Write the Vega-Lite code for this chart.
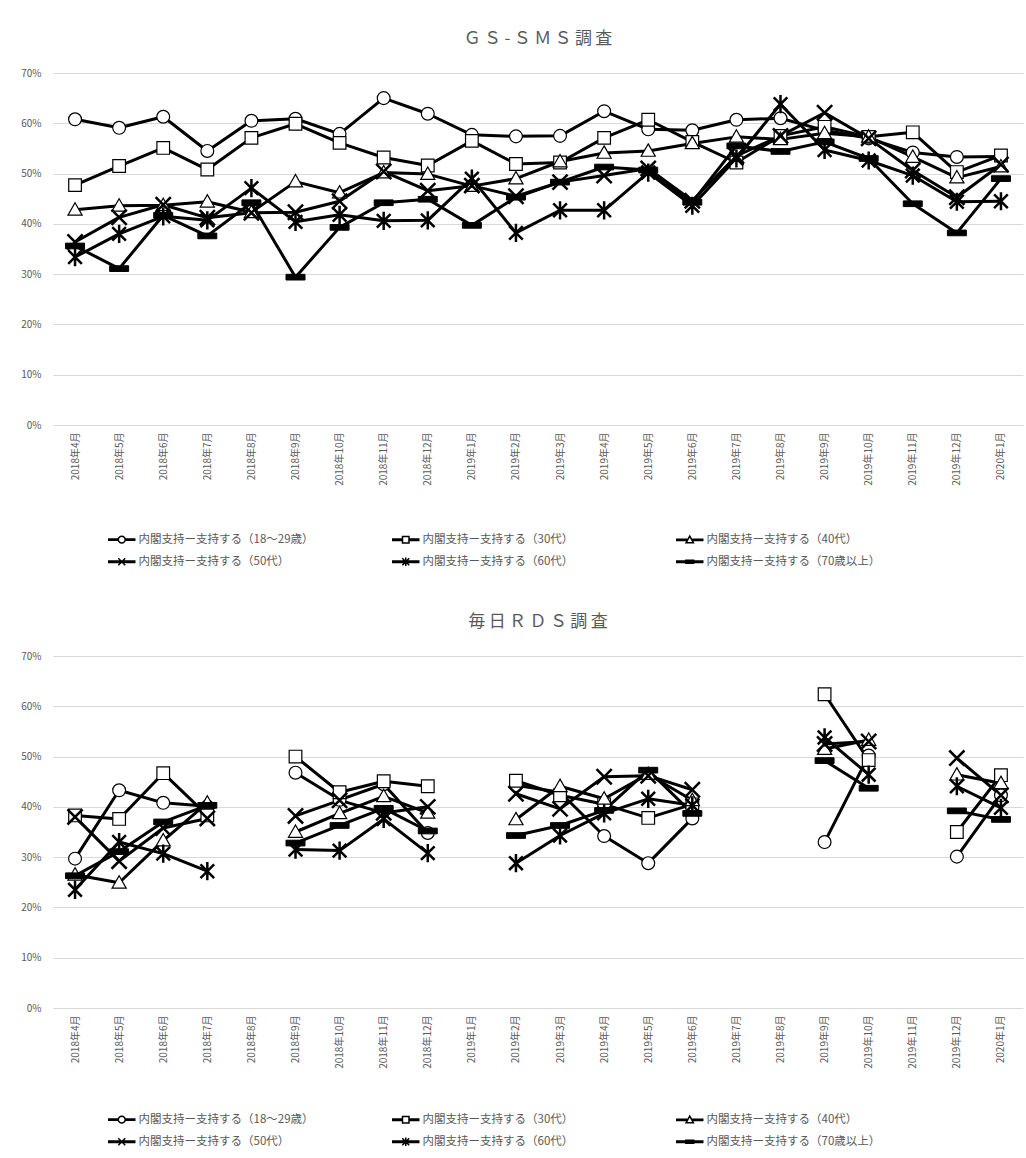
{
  "$schema": "https://vega.github.io/schema/vega-lite/v6.json",
  "padding": {"left": 20, "top": 30, "right": 2, "bottom": 5},
  "background": "white",
  "config": {
    "font": "Noto Sans CJK JP",
    "view": {"stroke": null},
    "axis": {"labelFont": "Noto Sans CJK JP", "labelColor": "#595959", "labelFontSize": 10, "title": null, "ticks": false, "domain": false},
    "legend": {"labelFont": "Noto Sans CJK JP", "labelColor": "#595959", "labelFontSize": 11.5, "labelLimit": 0}
  },
  "datasets": {
    "gs": [
      {"month": "2018年4月", "内閣支持ー支持する（18〜29歳）": 0.608, "内閣支持ー支持する（30代）": 0.477, "内閣支持ー支持する（40代）": 0.428, "内閣支持ー支持する（50代）": 0.364, "内閣支持ー支持する（60代）": 0.334, "内閣支持ー支持する（70歳以上）": 0.356},
      {"month": "2018年5月", "内閣支持ー支持する（18〜29歳）": 0.591, "内閣支持ー支持する（30代）": 0.515, "内閣支持ー支持する（40代）": 0.436, "内閣支持ー支持する（50代）": 0.413, "内閣支持ー支持する（60代）": 0.380, "内閣支持ー支持する（70歳以上）": 0.311},
      {"month": "2018年6月", "内閣支持ー支持する（18〜29歳）": 0.613, "内閣支持ー支持する（30代）": 0.551, "内閣支持ー支持する（40代）": 0.437, "内閣支持ー支持する（50代）": 0.438, "内閣支持ー支持する（60代）": 0.415, "内閣支持ー支持する（70歳以上）": 0.417},
      {"month": "2018年7月", "内閣支持ー支持する（18〜29歳）": 0.545, "内閣支持ー支持する（30代）": 0.508, "内閣支持ー支持する（40代）": 0.444, "内閣支持ー支持する（50代）": 0.412, "内閣支持ー支持する（60代）": 0.407, "内閣支持ー支持する（70歳以上）": 0.376},
      {"month": "2018年8月", "内閣支持ー支持する（18〜29歳）": 0.605, "内閣支持ー支持する（30代）": 0.571, "内閣支持ー支持する（40代）": 0.423, "内閣支持ー支持する（50代）": 0.422, "内閣支持ー支持する（60代）": 0.471, "内閣支持ー支持する（70歳以上）": 0.442},
      {"month": "2018年9月", "内閣支持ー支持する（18〜29歳）": 0.609, "内閣支持ー支持する（30代）": 0.599, "内閣支持ー支持する（40代）": 0.484, "内閣支持ー支持する（50代）": 0.423, "内閣支持ー支持する（60代）": 0.404, "内閣支持ー支持する（70歳以上）": 0.294},
      {"month": "2018年10月", "内閣支持ー支持する（18〜29歳）": 0.579, "内閣支持ー支持する（30代）": 0.561, "内閣支持ー支持する（40代）": 0.462, "内閣支持ー支持する（50代）": 0.445, "内閣支持ー支持する（60代）": 0.418, "内閣支持ー支持する（70歳以上）": 0.393},
      {"month": "2018年11月", "内閣支持ー支持する（18〜29歳）": 0.650, "内閣支持ー支持する（30代）": 0.532, "内閣支持ー支持する（40代）": 0.502, "内閣支持ー支持する（50代）": 0.504, "内閣支持ー支持する（60代）": 0.406, "内閣支持ー支持する（70歳以上）": 0.442},
      {"month": "2018年12月", "内閣支持ー支持する（18〜29歳）": 0.619, "内閣支持ー支持する（30代）": 0.516, "内閣支持ー支持する（40代）": 0.499, "内閣支持ー支持する（50代）": 0.466, "内閣支持ー支持する（60代）": 0.407, "内閣支持ー支持する（70歳以上）": 0.449},
      {"month": "2019年1月", "内閣支持ー支持する（18〜29歳）": 0.577, "内閣支持ー支持する（30代）": 0.565, "内閣支持ー支持する（40代）": 0.475, "内閣支持ー支持する（50代）": 0.476, "内閣支持ー支持する（60代）": 0.490, "内閣支持ー支持する（70歳以上）": 0.397},
      {"month": "2019年2月", "内閣支持ー支持する（18〜29歳）": 0.574, "内閣支持ー支持する（30代）": 0.519, "内閣支持ー支持する（40代）": 0.490, "内閣支持ー支持する（50代）": 0.455, "内閣支持ー支持する（60代）": 0.382, "内閣支持ー支持する（70歳以上）": 0.453},
      {"month": "2019年3月", "内閣支持ー支持する（18〜29歳）": 0.575, "内閣支持ー支持する（30代）": 0.522, "内閣支持ー支持する（40代）": 0.524, "内閣支持ー支持する（50代）": 0.483, "内閣支持ー支持する（60代）": 0.427, "内閣支持ー支持する（70歳以上）": 0.483},
      {"month": "2019年4月", "内閣支持ー支持する（18〜29歳）": 0.624, "内閣支持ー支持する（30代）": 0.571, "内閣支持ー支持する（40代）": 0.541, "内閣支持ー支持する（50代）": 0.496, "内閣支持ー支持する（60代）": 0.427, "内閣支持ー支持する（70歳以上）": 0.513},
      {"month": "2019年5月", "内閣支持ー支持する（18〜29歳）": 0.588, "内閣支持ー支持する（30代）": 0.607, "内閣支持ー支持する（40代）": 0.545, "内閣支持ー支持する（50代）": 0.510, "内閣支持ー支持する（60代）": 0.502, "内閣支持ー支持する（70歳以上）": 0.507},
      {"month": "2019年6月", "内閣支持ー支持する（18〜29歳）": 0.586, "内閣支持ー支持する（30代）": 0.563, "内閣支持ー支持する（40代）": 0.560, "内閣支持ー支持する（50代）": 0.446, "内閣支持ー支持する（60代）": 0.436, "内閣支持ー支持する（70歳以上）": 0.443},
      {"month": "2019年7月", "内閣支持ー支持する（18〜29歳）": 0.607, "内閣支持ー支持する（30代）": 0.522, "内閣支持ー支持する（40代）": 0.573, "内閣支持ー支持する（50代）": 0.535, "内閣支持ー支持する（60代）": 0.530, "内閣支持ー支持する（70歳以上）": 0.555},
      {"month": "2019年8月", "内閣支持ー支持する（18〜29歳）": 0.610, "内閣支持ー支持する（30代）": 0.575, "内閣支持ー支持する（40代）": 0.568, "内閣支持ー支持する（50代）": 0.575, "内閣支持ー支持する（60代）": 0.638, "内閣支持ー支持する（70歳以上）": 0.544},
      {"month": "2019年9月", "内閣支持ー支持する（18〜29歳）": 0.586, "内閣支持ー支持する（30代）": 0.593, "内閣支持ー支持する（40代）": 0.580, "内閣支持ー支持する（50代）": 0.621, "内閣支持ー支持する（60代）": 0.547, "内閣支持ー支持する（70歳以上）": 0.563},
      {"month": "2019年10月", "内閣支持ー支持する（18〜29歳）": 0.570, "内閣支持ー支持する（30代）": 0.573, "内閣支持ー支持する（40代）": 0.573, "内閣支持ー支持する（50代）": 0.570, "内閣支持ー支持する（60代）": 0.526, "内閣支持ー支持する（70歳以上）": 0.530},
      {"month": "2019年11月", "内閣支持ー支持する（18〜29歳）": 0.542, "内閣支持ー支持する（30代）": 0.582, "内閣支持ー支持する（40代）": 0.533, "内閣支持ー支持する（50代）": 0.506, "内閣支持ー支持する（60代）": 0.496, "内閣支持ー支持する（70歳以上）": 0.440},
      {"month": "2019年12月", "内閣支持ー支持する（18〜29歳）": 0.533, "内閣支持ー支持する（30代）": 0.503, "内閣支持ー支持する（40代）": 0.492, "内閣支持ー支持する（50代）": 0.453, "内閣支持ー支持する（60代）": 0.444, "内閣支持ー支持する（70歳以上）": 0.382},
      {"month": "2020年1月", "内閣支持ー支持する（18〜29歳）": 0.534, "内閣支持ー支持する（30代）": 0.536, "内閣支持ー支持する（40代）": 0.514, "内閣支持ー支持する（50代）": 0.518, "内閣支持ー支持する（60代）": 0.445, "内閣支持ー支持する（70歳以上）": 0.490}
    ],
    "rds": [
      {"month": "2018年4月", "内閣支持ー支持する（18〜29歳）": 0.297, "内閣支持ー支持する（30代）": 0.383, "内閣支持ー支持する（40代）": 0.265, "内閣支持ー支持する（50代）": 0.380, "内閣支持ー支持する（60代）": 0.235, "内閣支持ー支持する（70歳以上）": 0.263},
      {"month": "2018年5月", "内閣支持ー支持する（18〜29歳）": 0.433, "内閣支持ー支持する（30代）": 0.376, "内閣支持ー支持する（40代）": 0.249, "内閣支持ー支持する（50代）": 0.292, "内閣支持ー支持する（60代）": 0.330, "内閣支持ー支持する（70歳以上）": 0.311},
      {"month": "2018年6月", "内閣支持ー支持する（18〜29歳）": 0.408, "内閣支持ー支持する（30代）": 0.467, "内閣支持ー支持する（40代）": 0.333, "内閣支持ー支持する（50代）": 0.358, "内閣支持ー支持する（60代）": 0.307, "内閣支持ー支持する（70歳以上）": 0.370},
      {"month": "2018年7月", "内閣支持ー支持する（18〜29歳）": 0.401, "内閣支持ー支持する（30代）": 0.383, "内閣支持ー支持する（40代）": 0.408, "内閣支持ー支持する（50代）": 0.377, "内閣支持ー支持する（60代）": 0.272, "内閣支持ー支持する（70歳以上）": 0.403},
      {"month": "2018年8月", "内閣支持ー支持する（18〜29歳）": null, "内閣支持ー支持する（30代）": null, "内閣支持ー支持する（40代）": null, "内閣支持ー支持する（50代）": null, "内閣支持ー支持する（60代）": null, "内閣支持ー支持する（70歳以上）": null},
      {"month": "2018年9月", "内閣支持ー支持する（18〜29歳）": 0.468, "内閣支持ー支持する（30代）": 0.500, "内閣支持ー支持する（40代）": 0.350, "内閣支持ー支持する（50代）": 0.382, "内閣支持ー支持する（60代）": 0.315, "内閣支持ー支持する（70歳以上）": 0.328},
      {"month": "2018年10月", "内閣支持ー支持する（18〜29歳）": 0.414, "内閣支持ー支持する（30代）": 0.429, "内閣支持ー支持する（40代）": 0.387, "内閣支持ー支持する（50代）": 0.413, "内閣支持ー支持する（60代）": 0.313, "内閣支持ー支持する（70歳以上）": 0.363},
      {"month": "2018年11月", "内閣支持ー支持する（18〜29歳）": 0.445, "内閣支持ー支持する（30代）": 0.451, "内閣支持ー支持する（40代）": 0.421, "内閣支持ー支持する（50代）": 0.388, "内閣支持ー支持する（60代）": 0.376, "内閣支持ー支持する（70歳以上）": 0.397},
      {"month": "2018年12月", "内閣支持ー支持する（18〜29歳）": 0.348, "内閣支持ー支持する（30代）": 0.441, "内閣支持ー支持する（40代）": 0.388, "内閣支持ー支持する（50代）": 0.400, "内閣支持ー支持する（60代）": 0.308, "内閣支持ー支持する（70歳以上）": 0.352},
      {"month": "2019年1月", "内閣支持ー支持する（18〜29歳）": null, "内閣支持ー支持する（30代）": null, "内閣支持ー支持する（40代）": null, "内閣支持ー支持する（50代）": null, "内閣支持ー支持する（60代）": null, "内閣支持ー支持する（70歳以上）": null},
      {"month": "2019年2月", "内閣支持ー支持する（18〜29歳）": 0.443, "内閣支持ー支持する（30代）": 0.452, "内閣支持ー支持する（40代）": 0.375, "内閣支持ー支持する（50代）": 0.426, "内閣支持ー支持する（60代）": 0.288, "内閣支持ー支持する（70歳以上）": 0.343},
      {"month": "2019年3月", "内閣支持ー支持する（18〜29歳）": 0.429, "内閣支持ー支持する（30代）": 0.423, "内閣支持ー支持する（40代）": 0.441, "内閣支持ー支持する（50代）": 0.396, "内閣支持ー支持する（60代）": 0.343, "内閣支持ー支持する（70歳以上）": 0.363},
      {"month": "2019年4月", "内閣支持ー支持する（18〜29歳）": 0.342, "内閣支持ー支持する（30代）": 0.405, "内閣支持ー支持する（40代）": 0.416, "内閣支持ー支持する（50代）": 0.460, "内閣支持ー支持する（60代）": 0.387, "内閣支持ー支持する（70歳以上）": 0.393},
      {"month": "2019年5月", "内閣支持ー支持する（18〜29歳）": 0.288, "内閣支持ー支持する（30代）": 0.378, "内閣支持ー支持する（40代）": 0.465, "内閣支持ー支持する（50代）": 0.462, "内閣支持ー支持する（60代）": 0.416, "内閣支持ー支持する（70歳以上）": 0.473},
      {"month": "2019年6月", "内閣支持ー支持する（18〜29歳）": 0.377, "内閣支持ー支持する（30代）": 0.405, "内閣支持ー支持する（40代）": 0.413, "内閣支持ー支持する（50代）": 0.434, "内閣支持ー支持する（60代）": 0.403, "内閣支持ー支持する（70歳以上）": 0.387},
      {"month": "2019年7月", "内閣支持ー支持する（18〜29歳）": null, "内閣支持ー支持する（30代）": null, "内閣支持ー支持する（40代）": null, "内閣支持ー支持する（50代）": null, "内閣支持ー支持する（60代）": null, "内閣支持ー支持する（70歳以上）": null},
      {"month": "2019年8月", "内閣支持ー支持する（18〜29歳）": null, "内閣支持ー支持する（30代）": null, "内閣支持ー支持する（40代）": null, "内閣支持ー支持する（50代）": null, "内閣支持ー支持する（60代）": null, "内閣支持ー支持する（70歳以上）": null},
      {"month": "2019年9月", "内閣支持ー支持する（18〜29歳）": 0.330, "内閣支持ー支持する（30代）": 0.624, "内閣支持ー支持する（40代）": 0.515, "内閣支持ー支持する（50代）": 0.525, "内閣支持ー支持する（60代）": 0.538, "内閣支持ー支持する（70歳以上）": 0.492},
      {"month": "2019年10月", "内閣支持ー支持する（18〜29歳）": 0.502, "内閣支持ー支持する（30代）": 0.493, "内閣支持ー支持する（40代）": 0.533, "内閣支持ー支持する（50代）": 0.530, "内閣支持ー支持する（60代）": 0.464, "内閣支持ー支持する（70歳以上）": 0.437},
      {"month": "2019年11月", "内閣支持ー支持する（18〜29歳）": null, "内閣支持ー支持する（30代）": null, "内閣支持ー支持する（40代）": null, "内閣支持ー支持する（50代）": null, "内閣支持ー支持する（60代）": null, "内閣支持ー支持する（70歳以上）": null},
      {"month": "2019年12月", "内閣支持ー支持する（18〜29歳）": 0.301, "内閣支持ー支持する（30代）": 0.350, "内閣支持ー支持する（40代）": 0.464, "内閣支持ー支持する（50代）": 0.497, "内閣支持ー支持する（60代）": 0.441, "内閣支持ー支持する（70歳以上）": 0.392},
      {"month": "2020年1月", "内閣支持ー支持する（18〜29歳）": 0.423, "内閣支持ー支持する（30代）": 0.463, "内閣支持ー支持する（40代）": 0.447, "内閣支持ー支持する（50代）": 0.423, "内閣支持ー支持する（60代）": 0.398, "内閣支持ー支持する（70歳以上）": 0.375}
    ]
  },
  "spacing": 43,
  "resolve": {"legend": {"shape": "independent", "fill": "independent"}},
  "vconcat": [
    {
      "title": {"text": "Ｇ\u2009Ｓ\u2009-\u2009Ｓ\u2009Ｍ\u2009Ｓ\u2009調\u2009査", "fontSize": 17, "fontWeight": "normal", "color": "#595959", "font": "Noto Sans CJK JP", "offset": 20, "anchor": "middle"},
      "width": 970,
      "height": 352,
      "data": {"name": "gs"},
      "transform": [{"fold": ["内閣支持ー支持する（18〜29歳）", "内閣支持ー支持する（30代）", "内閣支持ー支持する（40代）", "内閣支持ー支持する（50代）", "内閣支持ー支持する（60代）", "内閣支持ー支持する（70歳以上）"], "as": ["series", "value"]}],
      "encoding": {
        "x": {"field": "month", "type": "ordinal", "sort": null,
              "scale": {"domain": ["2018年4月", "2018年5月", "2018年6月", "2018年7月", "2018年8月", "2018年9月", "2018年10月", "2018年11月", "2018年12月", "2019年1月", "2019年2月", "2019年3月", "2019年4月", "2019年5月", "2019年6月", "2019年7月", "2019年8月", "2019年9月", "2019年10月", "2019年11月", "2019年12月", "2020年1月"]},
              "axis": {"labelAngle": -90, "labelPadding": 7, "grid": false}},
        "y": {"field": "value", "type": "quantitative", "scale": {"domain": [0, 0.7]},
              "axis": {"values": [0, 0.1, 0.2, 0.3, 0.4, 0.5, 0.6, 0.7], "format": ".0%", "labelPadding": 12, "gridColor": "#d9d9d9", "gridWidth": 1}}
      },
      "layer": [
        {"mark": {"type": "line", "color": "black", "strokeWidth": 3, "strokeJoin": "round", "invalid": "break-paths-show-domains"},
         "encoding": {"detail": {"field": "series"}}},
        {"transform": [{"filter": {"field": "series", "equal": "内閣支持ー支持する（18〜29歳）"}}],
         "mark": {"type": "point", "shape": "circle", "size": 165, "filled": true, "fill": "white", "stroke": "black", "strokeWidth": 1.2, "opacity": 1}},
        {"transform": [{"filter": {"field": "series", "equal": "内閣支持ー支持する（30代）"}}],
         "mark": {"type": "point", "shape": "square", "size": 160, "filled": true, "fill": "white", "stroke": "black", "strokeWidth": 1.2, "opacity": 1}},
        {"transform": [{"filter": {"field": "series", "equal": "内閣支持ー支持する（40代）"}}],
         "mark": {"type": "point", "shape": "M0,-1L1,0.75H-1Z", "size": 200, "filled": true, "fill": "white", "stroke": "black", "strokeWidth": 1.2, "opacity": 1}},
        {"transform": [{"filter": {"field": "series", "equal": "内閣支持ー支持する（50代）"}}],
         "mark": {"type": "point", "shape": "M-1,-1L1,1M-1,1L1,-1", "size": 230, "filled": false, "stroke": "black", "strokeWidth": 2.5, "opacity": 1}},
        {"transform": [{"filter": {"field": "series", "equal": "内閣支持ー支持する（60代）"}}],
         "mark": {"type": "point", "shape": "M-0.9,-0.9L0.9,0.9M-0.9,0.9L0.9,-0.9M0,-1.2L0,1.2", "size": 230, "filled": false, "stroke": "black", "strokeWidth": 2.5, "opacity": 1}},
        {"transform": [{"filter": {"field": "series", "equal": "内閣支持ー支持する（70歳以上）"}}],
         "mark": {"type": "point", "shape": "M-1,-0.3H1V0.3H-1Z", "size": 360, "filled": true, "fill": "black", "stroke": "black", "strokeWidth": 1, "strokeJoin": "round", "opacity": 1}},
        {"transform": [{"filter": "false"}],
         "mark": {"type": "point", "stroke": "black", "strokeWidth": 1.4, "opacity": 1},
         "encoding": {
           "shape": {"field": "series", "type": "nominal",
             "scale": {"domain": ["内閣支持ー支持する（18〜29歳）", "内閣支持ー支持する（30代）", "内閣支持ー支持する（40代）", "内閣支持ー支持する（50代）", "内閣支持ー支持する（60代）", "内閣支持ー支持する（70歳以上）"],
                       "range": [
                         "M-3,-0.15H-0.8V0.15H-3ZM0.8,-0.15H3V0.15H0.8ZM-0.8,0A0.8,0.8 0 1,1 0.8,0A0.8,0.8 0 1,1 -0.8,0Z",
                         "M-3,-0.15H-0.75V0.15H-3ZM0.75,-0.15H3V0.15H0.75ZM-0.75,-0.75H0.75V0.75H-0.75Z",
                         "M-3,-0.15H-0.6V0.15H-3ZM0.6,-0.15H3V0.15H0.6ZM0,-0.9L0.85,0.65H-0.85Z",
                         "M-3,-0.15H3V0.15H-3ZM-0.8,-0.8L0.8,0.8M-0.8,0.8L0.8,-0.8",
                         "M-3,-0.15H3V0.15H-3ZM-0.8,-0.8L0.8,0.8M-0.8,0.8L0.8,-0.8M0,-1L0,1",
                         "M-3,-0.15H3V0.15H-3ZM-0.9,-0.35H0.9V0.35H-0.9Z"]},
             "legend": {"title": null, "orient": "none", "legendX": 63, "legendY": 460, "columns": 3, "direction": "horizontal", "symbolSize": 75, "labelOffset": 11, "rowPadding": 7, "columnPadding": 75, "gridAlign": "all",
                        "encode": {"symbols": {"update": {"stroke": {"value": "black"}, "strokeWidth": {"value": 1.3}, "opacity": {"value": 1}}}}}},
           "fill": {"field": "series", "type": "nominal",
             "scale": {"domain": ["内閣支持ー支持する（18〜29歳）", "内閣支持ー支持する（30代）", "内閣支持ー支持する（40代）", "内閣支持ー支持する（50代）", "内閣支持ー支持する（60代）", "内閣支持ー支持する（70歳以上）"],
                       "range": ["white", "white", "white", "black", "black", "black"]},
             "legend": {"title": null, "orient": "none", "legendX": 63, "legendY": 460, "columns": 3, "direction": "horizontal", "symbolSize": 75, "labelOffset": 11, "rowPadding": 7, "columnPadding": 75, "gridAlign": "all",
                        "encode": {"symbols": {"update": {"stroke": {"value": "black"}, "strokeWidth": {"value": 1.3}, "opacity": {"value": 1}}}}}}
         }}
      ]
    },
    {
      "title": {"text": "毎\u2009日\u2009Ｒ\u2009Ｄ\u2009Ｓ\u2009調\u2009査", "fontSize": 17, "fontWeight": "normal", "color": "#595959", "font": "Noto Sans CJK JP", "offset": 20, "anchor": "middle"},
      "width": 970,
      "height": 352,
      "data": {"name": "rds"},
      "transform": [{"fold": ["内閣支持ー支持する（18〜29歳）", "内閣支持ー支持する（30代）", "内閣支持ー支持する（40代）", "内閣支持ー支持する（50代）", "内閣支持ー支持する（60代）", "内閣支持ー支持する（70歳以上）"], "as": ["series", "value"]}],
      "encoding": {
        "x": {"field": "month", "type": "ordinal", "sort": null,
              "scale": {"domain": ["2018年4月", "2018年5月", "2018年6月", "2018年7月", "2018年8月", "2018年9月", "2018年10月", "2018年11月", "2018年12月", "2019年1月", "2019年2月", "2019年3月", "2019年4月", "2019年5月", "2019年6月", "2019年7月", "2019年8月", "2019年9月", "2019年10月", "2019年11月", "2019年12月", "2020年1月"]},
              "axis": {"labelAngle": -90, "labelPadding": 7, "grid": false}},
        "y": {"field": "value", "type": "quantitative", "scale": {"domain": [0, 0.7]},
              "axis": {"values": [0, 0.1, 0.2, 0.3, 0.4, 0.5, 0.6, 0.7], "format": ".0%", "labelPadding": 12, "gridColor": "#d9d9d9", "gridWidth": 1}}
      },
      "layer": [
        {"mark": {"type": "line", "color": "black", "strokeWidth": 3, "strokeJoin": "round", "invalid": "break-paths-show-domains"},
         "encoding": {"detail": {"field": "series"}}},
        {"transform": [{"filter": {"field": "series", "equal": "内閣支持ー支持する（18〜29歳）"}}],
         "mark": {"type": "point", "shape": "circle", "size": 165, "filled": true, "fill": "white", "stroke": "black", "strokeWidth": 1.2, "opacity": 1}},
        {"transform": [{"filter": {"field": "series", "equal": "内閣支持ー支持する（30代）"}}],
         "mark": {"type": "point", "shape": "square", "size": 160, "filled": true, "fill": "white", "stroke": "black", "strokeWidth": 1.2, "opacity": 1}},
        {"transform": [{"filter": {"field": "series", "equal": "内閣支持ー支持する（40代）"}}],
         "mark": {"type": "point", "shape": "M0,-1L1,0.75H-1Z", "size": 200, "filled": true, "fill": "white", "stroke": "black", "strokeWidth": 1.2, "opacity": 1}},
        {"transform": [{"filter": {"field": "series", "equal": "内閣支持ー支持する（50代）"}}],
         "mark": {"type": "point", "shape": "M-1,-1L1,1M-1,1L1,-1", "size": 230, "filled": false, "stroke": "black", "strokeWidth": 2.5, "opacity": 1}},
        {"transform": [{"filter": {"field": "series", "equal": "内閣支持ー支持する（60代）"}}],
         "mark": {"type": "point", "shape": "M-0.9,-0.9L0.9,0.9M-0.9,0.9L0.9,-0.9M0,-1.2L0,1.2", "size": 230, "filled": false, "stroke": "black", "strokeWidth": 2.5, "opacity": 1}},
        {"transform": [{"filter": {"field": "series", "equal": "内閣支持ー支持する（70歳以上）"}}],
         "mark": {"type": "point", "shape": "M-1,-0.3H1V0.3H-1Z", "size": 360, "filled": true, "fill": "black", "stroke": "black", "strokeWidth": 1, "strokeJoin": "round", "opacity": 1}},
        {"transform": [{"filter": "false"}],
         "mark": {"type": "point", "stroke": "black", "strokeWidth": 1.4, "opacity": 1},
         "encoding": {
           "shape": {"field": "series", "type": "nominal",
             "scale": {"domain": ["内閣支持ー支持する（18〜29歳）", "内閣支持ー支持する（30代）", "内閣支持ー支持する（40代）", "内閣支持ー支持する（50代）", "内閣支持ー支持する（60代）", "内閣支持ー支持する（70歳以上）"],
                       "range": [
                         "M-3,-0.15H-0.8V0.15H-3ZM0.8,-0.15H3V0.15H0.8ZM-0.8,0A0.8,0.8 0 1,1 0.8,0A0.8,0.8 0 1,1 -0.8,0Z",
                         "M-3,-0.15H-0.75V0.15H-3ZM0.75,-0.15H3V0.15H0.75ZM-0.75,-0.75H0.75V0.75H-0.75Z",
                         "M-3,-0.15H-0.6V0.15H-3ZM0.6,-0.15H3V0.15H0.6ZM0,-0.9L0.85,0.65H-0.85Z",
                         "M-3,-0.15H3V0.15H-3ZM-0.8,-0.8L0.8,0.8M-0.8,0.8L0.8,-0.8",
                         "M-3,-0.15H3V0.15H-3ZM-0.8,-0.8L0.8,0.8M-0.8,0.8L0.8,-0.8M0,-1L0,1",
                         "M-3,-0.15H3V0.15H-3ZM-0.9,-0.35H0.9V0.35H-0.9Z"]},
             "legend": {"title": null, "orient": "none", "legendX": 63, "legendY": 457, "columns": 3, "direction": "horizontal", "symbolSize": 75, "labelOffset": 11, "rowPadding": 7, "columnPadding": 75, "gridAlign": "all",
                        "encode": {"symbols": {"update": {"stroke": {"value": "black"}, "strokeWidth": {"value": 1.3}, "opacity": {"value": 1}}}}}},
           "fill": {"field": "series", "type": "nominal",
             "scale": {"domain": ["内閣支持ー支持する（18〜29歳）", "内閣支持ー支持する（30代）", "内閣支持ー支持する（40代）", "内閣支持ー支持する（50代）", "内閣支持ー支持する（60代）", "内閣支持ー支持する（70歳以上）"],
                       "range": ["white", "white", "white", "black", "black", "black"]},
             "legend": {"title": null, "orient": "none", "legendX": 63, "legendY": 457, "columns": 3, "direction": "horizontal", "symbolSize": 75, "labelOffset": 11, "rowPadding": 7, "columnPadding": 75, "gridAlign": "all",
                        "encode": {"symbols": {"update": {"stroke": {"value": "black"}, "strokeWidth": {"value": 1.3}, "opacity": {"value": 1}}}}}}
         }}
      ]
    }
  ]
}
